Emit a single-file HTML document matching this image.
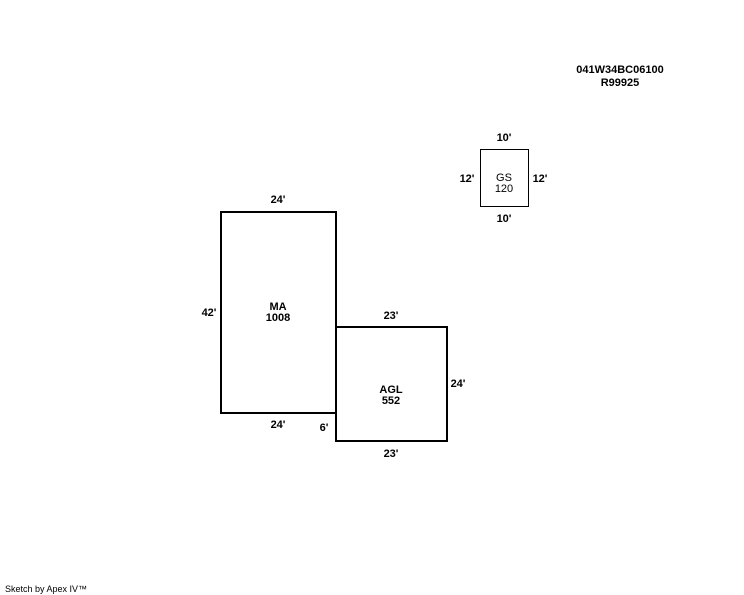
<!DOCTYPE html>
<html><head><style>
html,body{margin:0;padding:0;background:#fff;}
svg{display:block}
text{font-family:"Liberation Sans",sans-serif;font-size:11px;font-weight:bold;fill:#000;text-anchor:middle}
</style></head><body>
<svg width="744" height="595" viewBox="0 0 744 595" xmlns="http://www.w3.org/2000/svg">
<rect x="0" y="0" width="744" height="595" fill="#fff"/>
<text x="620" y="73">041W34BC06100</text>
<text x="620" y="86">R99925</text>
<rect x="480.5" y="149.5" width="48" height="57" fill="none" stroke="#000" stroke-width="1"/>
<text x="504" y="141">10'</text>
<text x="504" y="222">10'</text>
<text x="467" y="182">12'</text>
<text x="540" y="182">12'</text>
<text x="504" y="181" style="font-weight:normal">GS</text>
<text x="504" y="192" style="font-weight:normal">120</text>
<rect x="221" y="212" width="115" height="201" fill="none" stroke="#000" stroke-width="2"/>
<rect x="336" y="327" width="111" height="114" fill="none" stroke="#000" stroke-width="2"/>
<text x="278" y="203">24'</text>
<text x="209" y="316">42'</text>
<text x="278" y="310">MA</text>
<text x="278" y="321">1008</text>
<text x="278" y="428">24'</text>
<text x="324" y="431">6'</text>
<text x="391" y="319">23'</text>
<text x="391" y="393">AGL</text>
<text x="391" y="404">552</text>
<text x="458" y="387">24'</text>
<text x="391" y="457">23'</text>
<text x="5" y="592" style="font-size:9px;font-weight:normal;text-anchor:start">Sketch by Apex IV™</text>
</svg>
</body></html>
